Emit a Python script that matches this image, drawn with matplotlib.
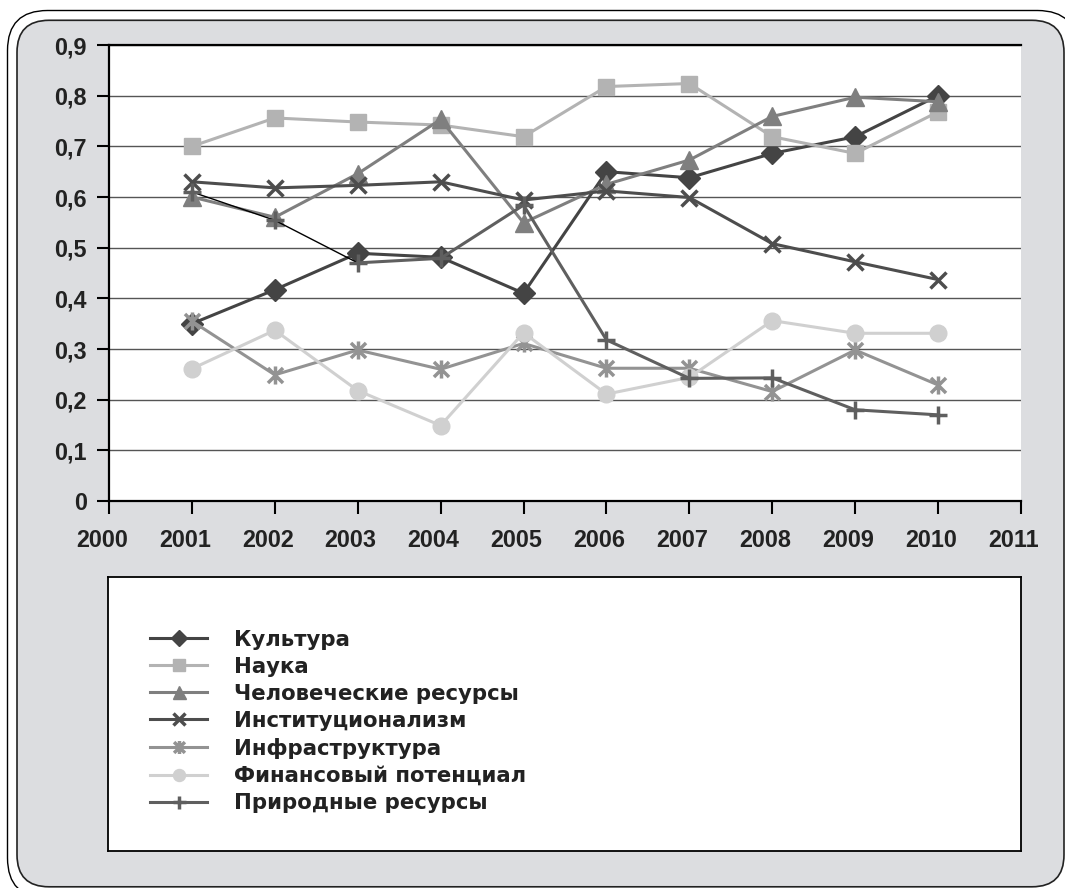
import matplotlib
matplotlib.use("Agg")
import matplotlib.pyplot as plt
from matplotlib.patches import FancyBboxPatch
from matplotlib.path import Path
from matplotlib.lines import Line2D
from matplotlib.transforms import ScaledTranslation

plt.rcParams['font.family'] = ['Liberation Sans', 'DejaVu Sans']

years = [2001, 2002, 2003, 2004, 2005, 2006, 2007, 2008, 2009, 2010]
kultura = [0.35, 0.417, 0.489, 0.481, 0.41, 0.65, 0.638, 0.686, 0.719, 0.80]
nauka = [0.70, 0.756, 0.748, 0.742, 0.719, 0.818, 0.824, 0.719, 0.686, 0.768]
chelovek = [0.60, 0.56, 0.646, 0.753, 0.549, 0.625, 0.673, 0.759, 0.797, 0.788]
instit = [0.63, 0.618, 0.623, 0.63, 0.594, 0.612, 0.599, 0.508, 0.472, 0.437]
infra = [0.355, 0.249, 0.298, 0.26, 0.311, 0.262, 0.262, 0.216, 0.298, 0.229]
finans = [0.261, 0.337, 0.218, 0.149, 0.332, 0.211, 0.244, 0.356, 0.331, 0.331]
prirod = [0.61, 0.554, 0.47, 0.479, 0.584, 0.318, 0.242, 0.243, 0.18, 0.17]

labels = ['Культура', 'Наука', 'Человеческие ресурсы', 'Институционализм',
          'Инфраструктура', 'Финансовый потенциал', 'Природные ресурсы']
yticks = [0, 0.1, 0.2, 0.3, 0.4, 0.5, 0.6, 0.7, 0.8, 0.9]
ytick_labels = ['0', '0,1', '0,2', '0,3', '0,4', '0,5', '0,6', '0,7', '0,8', '0,9']
xticks = list(range(2000, 2012))

# asterisk marker: x plus vertical bar
ast = Path([(-0.5, -0.5), (0.5, 0.5), (-0.5, 0.5), (0.5, -0.5), (0, -0.6), (0, 0.6)],
           [Path.MOVETO, Path.LINETO, Path.MOVETO, Path.LINETO, Path.MOVETO, Path.LINETO])

styles = [
    dict(color='#444444', marker='D', ms=11.5),
    dict(color='#b3b3b3', marker='s', ms=12),
    dict(color='#7f7f7f', marker='^', ms=13),
    dict(color='#4d4d4d', marker='x', ms=12, mew=2.5),
    dict(color='#939393', marker=ast, ms=13, mew=2.5),
    dict(color='#d0d0d0', marker='o', ms=12),
    dict(color='#5f5f5f', marker='+', ms=13, mew=2.5),
]
series = [kultura, nauka, chelovek, instit, infra, finans, prirod]

fig = plt.figure(figsize=(10.65, 8.88), dpi=100)
fig.patch.set_facecolor('white')

W, H = 1065, 888
outer = FancyBboxPatch((0.075, -0.10), 10.7, 8.875,
                       boxstyle="round,pad=0,rounding_size=0.4",
                       transform=fig.dpi_scale_trans, fc='white', ec='black', lw=1.0,
                       zorder=-2)
fig.patches.append(outer)
inner = FancyBboxPatch((0.17, 0.012), 10.47, 8.665,
                       boxstyle="round,pad=0,rounding_size=0.32",
                       transform=fig.dpi_scale_trans, fc='#dcdde0', ec='#222222', lw=1.2,
                       zorder=-1)
fig.patches.append(inner)

ax = fig.add_axes([109 / W, 1 - 501 / H, (1021 - 109) / W, (501 - 45) / H])
ax.set_facecolor('white')
ax.set_xlim(2000, 2011)
ax.set_ylim(0, 0.9)

for vals, st, lab in zip(series, styles, labels):
    if lab == 'Природные ресурсы':
        ax.plot(years[:3], vals[:3], color='black', lw=1.0, zorder=3)
        ax.plot(years[2:], vals[2:], color=st['color'], lw=2.2, zorder=3)
        ax.plot(years, vals, ls='none', zorder=3, **st)
    else:
        ax.plot(years, vals, lw=2.2, zorder=3, **st)

ax.set_yticks(yticks)
ax.set_yticklabels(ytick_labels)
ax.set_xticks(xticks)
ax.grid(axis='y', color='#555555', lw=1.0)
ax.set_axisbelow(True)
ax.spines['right'].set_visible(False)
for s in ['left', 'bottom', 'top']:
    ax.spines[s].set_color('black')
    ax.spines[s].set_linewidth(1.6)
ax.tick_params(axis='both', direction='out', length=9, width=1.5, color='black',
               labelsize=16.8, labelcolor='#222222')
ax.tick_params(axis='x', pad=11)
ax.tick_params(axis='y', pad=7)
for t in ax.get_xticklabels() + ax.get_yticklabels():
    t.set_fontweight('bold')
shift = ScaledTranslation(-0.07, 0, fig.dpi_scale_trans)
for t in ax.get_xticklabels():
    t.set_transform(t.get_transform() + shift)

# legend box
lax = fig.add_axes([108 / W, 1 - 851 / H, (1021 - 108) / W, (851 - 577) / H])
lax.set_facecolor('white')
lax.set_xticks([])
lax.set_yticks([])
for s in lax.spines.values():
    s.set_color('black')
    s.set_linewidth(1.3)

hl = []
for vals, st, lab in zip(series, styles, labels):
    hl.append(Line2D([], [], lw=2.2, **st))
leg = lax.legend(hl, labels, loc='upper left', bbox_to_anchor=(0.046, 0.807),
                 frameon=False, handlelength=2.7, handletextpad=1.25,
                 labelspacing=0.33,
                 prop=dict(family='DejaVu Sans', size=15.3, weight='bold'),
                 borderaxespad=0, borderpad=0, markerscale=0.72)
for t in leg.get_texts():
    t.set_color('#222222')

fig.savefig('out.png', dpi=100, facecolor='white')
